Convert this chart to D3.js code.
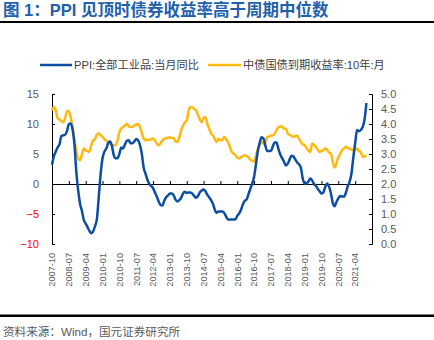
<!DOCTYPE html>
<html>
<head>
<meta charset="utf-8">
<script src="https://cdn.jsdelivr.net/npm/d3@7"></script>
<style>
  html, body { margin: 0; padding: 0; background: #fff; }
  svg { display: block; }
</style>
</head>
<body>
<svg id="chart" width="434" height="340"></svg>
<script>
// ---------- DATA (monthly, 2007-10 .. 2021-10) ----------
const startYear = 2007, startMonth = 10;
const ppiValues = [
  3.2, 4.6, 5.4,
  6.1, 6.6, 8.0, 8.1, 8.2, 8.8, 10.0, 10.1, 9.1, 6.6, 2.0, -1.1,
  -3.3, -4.5, -6.0, -6.6, -7.2, -7.8, -8.2, -7.9, -7.0, -5.8, -2.1, 1.7,
  4.3, 5.4, 5.9, 6.8, 7.1, 6.4, 4.8, 4.3, 4.3, 5.0, 6.1, 5.9,
  6.6, 7.2, 7.3, 6.8, 6.8, 7.1, 7.5, 7.3, 6.5, 5.0, 2.7, 1.7,
  0.7, 0.0, -0.3, -0.7, -1.4, -2.1, -2.9, -3.5, -3.6, -2.8, -2.2, -1.9,
  -1.6, -1.6, -1.9, -2.6, -2.9, -2.7, -2.3, -1.6, -1.3, -1.5, -1.4, -1.4,
  -1.6, -2.0, -2.3, -2.0, -1.4, -1.1, -0.9, -1.2, -1.8, -2.2, -2.7, -3.3,
  -4.3, -4.8, -4.6, -4.6, -4.6, -4.8, -5.4, -5.9, -5.9, -5.9, -5.9, -5.9,
  -5.3, -4.9, -4.3, -3.4, -2.8, -2.6, -1.7, -0.8, 0.1, 1.2, 3.3, 5.5,
  6.9, 7.8, 7.6, 6.4, 5.5, 5.5, 5.5, 6.3, 6.9, 6.9, 5.8, 4.9,
  4.3, 3.7, 3.1, 3.4, 4.1, 4.7, 4.6, 4.1, 3.6, 3.3, 2.7, 0.9,
  0.1, 0.1, 0.4, 0.9, 0.6, 0.0, -0.3, -0.8, -1.2, -1.6, -1.4, -0.5,
  0.1, -0.4, -1.5, -3.1, -3.7, -3.0, -2.4, -2.0, -2.1, -2.1, -1.5, -0.4,
  0.3, 1.7, 4.4, 6.8, 9.0, 8.8, 9.0, 9.5, 10.7, 13.5
];
const yieldValues = [
  4.45, 4.56, 4.45,
  4.20, 4.15, 4.10, 4.06, 4.20, 4.43, 4.42, 4.23, 3.90, 3.46, 3.10, 2.85,
  2.79, 3.00, 3.18, 3.12, 3.10, 3.07, 3.30, 3.45, 3.50, 3.65, 3.68, 3.62,
  3.57, 3.50, 3.45, 3.40, 3.35, 3.29, 3.30, 3.29, 3.45, 3.73, 3.85, 3.90,
  3.95, 4.01, 3.92, 3.90, 3.90, 3.95, 3.98, 4.01, 3.90, 3.70, 3.51, 3.45,
  3.48, 3.46, 3.50, 3.52, 3.45, 3.35, 3.29, 3.35, 3.46, 3.50, 3.53, 3.55,
  3.55, 3.53, 3.53, 3.42, 3.40, 3.55, 3.79, 3.95, 4.05, 4.12, 4.45, 4.56,
  4.56, 4.50, 4.45, 4.30, 4.15, 4.06, 4.20, 4.23, 4.00, 3.84, 3.68, 3.62,
  3.50, 3.40, 3.51, 3.46, 3.46, 3.57, 3.50, 3.40, 3.25, 3.07, 3.02, 2.96,
  2.88, 2.85, 2.90, 2.93, 2.96, 2.93, 2.90, 2.80, 2.78, 2.74, 2.95, 3.18,
  3.30, 3.40, 3.35, 3.40, 3.57, 3.58, 3.62, 3.62, 3.68, 3.80, 3.90, 3.92,
  3.92, 3.84, 3.84, 3.68, 3.64, 3.60, 3.57, 3.60, 3.62, 3.50, 3.40, 3.32,
  3.29, 3.20, 3.12, 3.07, 3.35, 3.30, 3.24, 3.15, 3.07, 3.10, 3.13, 3.18,
  3.15, 3.05, 3.02, 2.74, 2.55, 2.70, 2.90, 3.00, 3.13, 3.18, 3.24, 3.20,
  3.18, 3.15, 3.13, 3.15, 3.18, 3.10, 3.07, 2.90, 2.93, 2.90
];
const xTickLabels = ["2007-10","2008-07","2009-04","2010-01","2010-10","2011-07","2012-04",
  "2013-01","2013-10","2014-07","2015-04","2016-01","2016-10","2017-07","2018-04",
  "2019-01","2019-10","2020-07","2021-04"];
const leftTicks = [15, 10, 5, 0, -5, -10];
const rightTicks = [5.0, 4.5, 4.0, 3.5, 3.0, 2.5, 2.0, 1.5, 1.0, 0.5, 0.0];
const seriesNames = ["PPI:全部工业品:当月同比", "中债国债到期收益率:10年:月"];
const titleText = "图 1：PPI 见顶时债券收益率高于周期中位数";
const sourceText = "资料来源：Wind，国元证券研究所";

// ---------- LAYOUT ----------
const svg = d3.select("#chart");
const blue = "#0c4ea3", gold = "#ffb90f", labelCol = "#595959";
const fontLatin = "'Liberation Sans', Arial, 'Noto Sans CJK SC', sans-serif";
const fontCJK = "'Liberation Sans', 'Noto Sans CJK SC', sans-serif";

const x = d3.scaleLinear().domain([0, 171]).range([52, 372]);
const yL = d3.scaleLinear().domain([-10, 15]).range([244, 94]);
const yR = d3.scaleLinear().domain([0, 5]).range([244, 94]);

// title
svg.append("text").attr("x", 3).attr("y", 15.5)
  .attr("font-family", fontCJK).attr("font-weight", "bold").attr("font-size", 16.5)
  .attr("fill", "#2160ac").text(titleText);
svg.append("rect").attr("x", 0).attr("y", 21).attr("width", 434).attr("height", 2).attr("fill", "#000");
svg.append("rect").attr("x", 0).attr("y", 314.5).attr("width", 434).attr("height", 2.5).attr("fill", "#000");
svg.append("text").attr("x", 3).attr("y", 336)
  .attr("font-family", fontCJK).attr("font-size", 11.6)
  .attr("fill", labelCol).text(sourceText);

// legend
const legend = [
  {x0: 40, x1: 72, tx: 74, color: blue, name: seriesNames[0]},
  {x0: 208, x1: 241, tx: 243, color: gold, name: seriesNames[1]}
];
legend.forEach(l => {
  svg.append("line").attr("x1", l.x0).attr("x2", l.x1).attr("y1", 65).attr("y2", 65)
    .attr("stroke", l.color).attr("stroke-width", 2.5);
  svg.append("text").attr("x", l.tx).attr("y", 69)
    .attr("font-family", fontCJK).attr("font-size", 11.2).attr("fill", "#404040").text(l.name);
});

// left axis
const gL = svg.append("g").attr("transform", "translate(52,0)")
  .call(d3.axisLeft(yL).tickValues(leftTicks).tickSizeInner(-3).tickSizeOuter(-3).tickPadding(13)
    .tickFormat(d3.format("d")));
gL.select(".domain").attr("stroke", "#000");
gL.selectAll(".tick line").attr("stroke", "#000");
gL.selectAll(".tick text").attr("font-family", fontLatin).attr("font-size", 11)
  .attr("fill", d => d < 0 ? "#ff0000" : labelCol);

// right axis
const gR = svg.append("g").attr("transform", "translate(372,0)")
  .call(d3.axisRight(yR).tickValues(rightTicks).tickSizeInner(-3).tickSizeOuter(-3).tickPadding(9)
    .tickFormat(d3.format(".1f")));
gR.select(".domain").attr("stroke", "#000");
gR.selectAll(".tick line").attr("stroke", "#000");
gR.selectAll(".tick text").attr("font-family", fontLatin).attr("font-size", 11).attr("fill", labelCol);

// x axis along zero line
const tickIdx = d3.range(0, 172, 9);
const gX = svg.append("g").attr("transform", `translate(0,${yL(0)})`)
  .call(d3.axisBottom(x).tickValues(tickIdx).tickSizeInner(-3).tickSizeOuter(0).tickFormat(() => ""));
gX.select(".domain").attr("stroke", "#000");
gX.selectAll(".tick line").attr("stroke", "#000");

// x tick labels (rotated) at bottom
svg.append("g").selectAll("text").data(xTickLabels).join("text")
  .attr("transform", (d, i) => `translate(${x(i * 9) + 3.3},253) rotate(-90)`)
  .attr("text-anchor", "end")
  .attr("font-family", fontLatin).attr("font-size", 9.2).attr("fill", labelCol)
  .text(d => d);

// lines
const line = (yScale) => d3.line().x((d, i) => x(i)).y(d => yScale(d)).curve(d3.curveMonotoneX);
svg.append("path").datum(yieldValues).attr("d", line(yR))
  .attr("fill", "none").attr("stroke", gold).attr("stroke-width", 2.5).attr("stroke-linejoin", "round");
svg.append("path").datum(ppiValues).attr("d", line(yL))
  .attr("fill", "none").attr("stroke", blue).attr("stroke-width", 2.5).attr("stroke-linejoin", "round");
</script>
</body>
</html>
